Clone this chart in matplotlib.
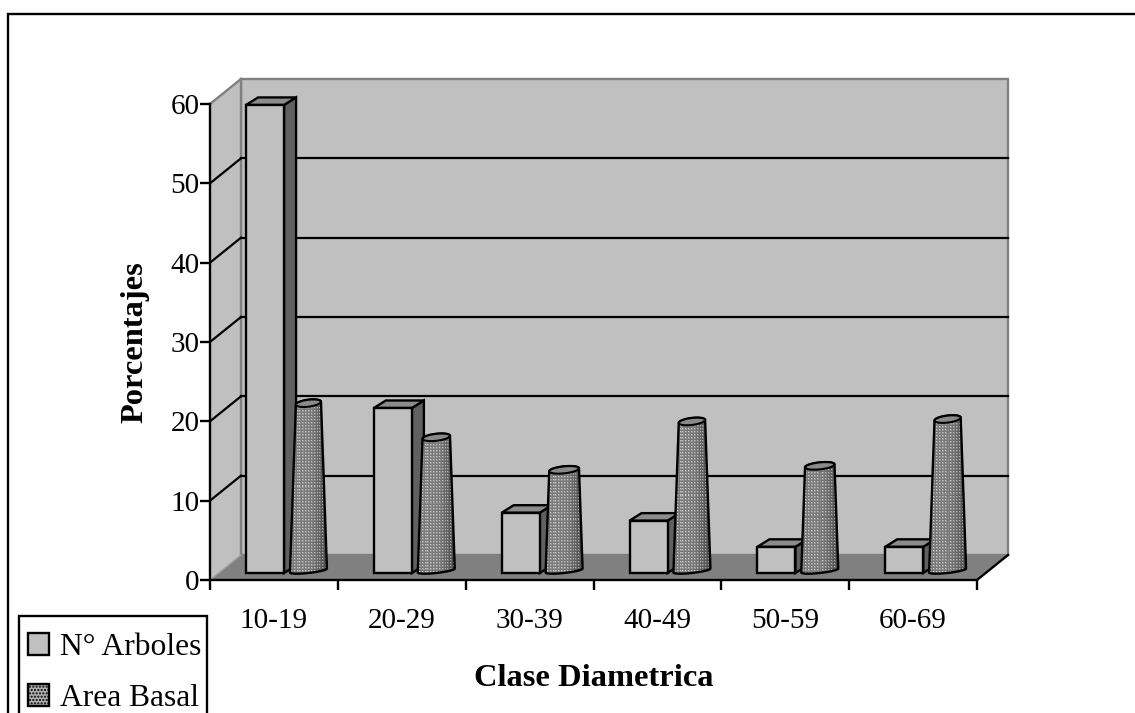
import numpy as np
import matplotlib
matplotlib.use('Agg')
import matplotlib.pyplot as plt
from matplotlib.patches import Polygon, Patch, Rectangle

# Chart values
clases = ['10-19', '20-29', '30-39', '40-49', '50-59', '60-69']
n_arboles = [59.0, 20.8, 7.6, 6.6, 3.3, 3.3]
area_basal = [21.4, 17.1, 13.0, 19.1, 13.5, 19.4]
y_ticks = [0, 10, 20, 30, 40, 50, 60]

W, H = 1135, 713
LEFT, RIGHT, BOTTOM, TOP = 210, 977, 580, 104
PX = len(clases) / (RIGHT - LEFT)   # one pixel in x units
PY = 60 / (BOTTOM - TOP)            # one pixel in y units
DEPTH_X, DEPTH_Y = 31 * PX, 25 * PY
LW = 1.7

plt.rcParams['font.family'] = ['Liberation Serif', 'DejaVu Serif']

fig = plt.figure(figsize=(W / 100, H / 100), dpi=100)
ax = fig.add_axes([LEFT / W, 1 - BOTTOM / H, (RIGHT - LEFT) / W, (BOTTOM - TOP) / H])
ax.set_xlim(0, len(clases))
ax.set_ylim(0, 60)
ax.patch.set_visible(False)

# Outer chart frame, only left and top fall inside the picture
fig.add_artist(Rectangle((8 / W, -0.1), 1.2, 1.1 - 14 / H, transform=fig.transFigure,
                         fc='none', ec='black', lw=LW))


def poly(points, fc, ec='black', lw=LW, z=2):
    p = Polygon(points, closed=True, fc=fc, ec=ec, lw=lw, zorder=z,
                joinstyle='miter', clip_on=False)
    ax.add_patch(p)
    return p


# Walls and floor
n = len(clases)
poly([(DEPTH_X, DEPTH_Y), (n + DEPTH_X, DEPTH_Y), (n + DEPTH_X, 60 + DEPTH_Y), (DEPTH_X, 60 + DEPTH_Y)],
     '#c0c0c0', ec='#808080', z=1)
poly([(0, 0), (DEPTH_X, DEPTH_Y), (DEPTH_X, 60 + DEPTH_Y), (0, 60)], '#c0c0c0', ec='none', z=1)
ax.plot([0, DEPTH_X], [60, 60 + DEPTH_Y], color='#808080', lw=LW, zorder=1.2, clip_on=False)
ax.plot([DEPTH_X, DEPTH_X], [DEPTH_Y, 60 + DEPTH_Y], color='#808080', lw=LW, zorder=1.2, clip_on=False)

# Gridlines on back wall and left wall
for v in y_ticks[1:-1]:
    ax.plot([DEPTH_X, n + DEPTH_X], [v + DEPTH_Y, v + DEPTH_Y], color='black', lw=1.6, zorder=1.5, clip_on=False)
    ax.plot([0, DEPTH_X], [v, v + DEPTH_Y], color='black', lw=1.6, zorder=1.5, clip_on=False)

poly([(0, 0), (n, 0), (n + DEPTH_X, DEPTH_Y), (DEPTH_X, DEPTH_Y)], '#808080', ec='none', z=1.6)
ax.plot([n, n + DEPTH_X], [0, DEPTH_Y], color='black', lw=LW, zorder=1.7, clip_on=False)
ax.plot([0, DEPTH_X], [0, DEPTH_Y], color='#a0a0a0', lw=1, zorder=1.7, clip_on=False)


def texture(w, h):
    # dotted grey dither, darker to the right like the shaded cylinders
    xs = np.linspace(0, 1, w)
    shade = 0.58 - 0.05 * np.abs(xs - 0.3) - 0.42 * np.clip(xs - 0.55, 0, 1) ** 1.2
    img = np.tile(shade, (h, 1))
    yy, xx = np.mgrid[0:h, 0:w]
    img = img - 0.10 * ((xx % 3 == 0) | (yy % 3 == 0)) + 0.22 * ((xx % 3 == 1) & (yy % 3 == 1))
    return np.clip(img, 0, 1)


def ellipse(cx, cy, half_w, half_h, shear, t0, t1):
    t = np.linspace(t0, t1, 30)
    return np.column_stack([cx + half_w * np.cos(t), cy + half_h * np.sin(t) + shear * np.cos(t)])


base_y = 7 * PY
bar_x = 0.282
bar_w = 38 * PX
bar_dx, bar_dy = 12 * PX, 7.5 * PY
cyl_x = 0.77
cyl_w = 18.5 * PX

for i, clase in enumerate(clases):
    # square column
    x0 = i + bar_x
    x1 = x0 + bar_w
    y0, y1 = base_y, base_y + n_arboles[i]
    poly([(x1, y0), (x1 + bar_dx, y0 + bar_dy), (x1 + bar_dx, y1 + bar_dy), (x1, y1)], '#606060', z=3 + i)
    poly([(x0, y1), (x1, y1), (x1 + bar_dx, y1 + bar_dy), (x0 + bar_dx, y1 + bar_dy)], '#8c8c8c', z=3 + i)
    poly([(x0, y0), (x1, y0), (x1, y1), (x0, y1)], '#c0c0c0', z=3 + i)

    # tapered cylinder
    cx = i + cyl_x
    top = base_y + area_basal[i]
    top_w = cyl_w - 0.035 * area_basal[i] / PY * PX
    low = ellipse(cx, base_y + 2.5 * PY, cyl_w, 2.5 * PY, 2 * PY, np.pi, 2 * np.pi)
    cap = ellipse(cx, top, top_w, 3.5 * PY, 1.5 * PY, 0, 2 * np.pi)
    body = np.vstack([low, ellipse(cx, top, top_w, 3.5 * PY, 1.5 * PY, 0, np.pi)])
    w_px = int(2 * cyl_w / PX) + 2
    h_px = int((top - base_y) / PY) + 8
    outline = poly(body, 'none', z=3.2 + i)
    im = ax.imshow(texture(w_px, h_px), cmap='gray', vmin=0, vmax=1, aspect='auto', interpolation='nearest',
                   extent=(cx - cyl_w, cx + cyl_w, base_y - 2 * PY, top + 6 * PY), zorder=3.1 + i)
    im.set_clip_path(outline)
    poly(cap, '#8a8a8a', lw=1.5, z=3.3 + i)

ax.set_xlim(0, n)
ax.set_ylim(0, 60)

# Axes, ticks and labels
for side in ['top', 'right']:
    ax.spines[side].set_visible(False)
for side in ['left', 'bottom']:
    ax.spines[side].set_linewidth(LW)
    ax.spines[side].set_zorder(20)
ax.set_yticks(y_ticks)
ax.tick_params(axis='y', direction='out', length=7.5, width=LW, labelsize=21, pad=0)
ax.set_xticks(range(n + 1))
ax.set_xticks(np.arange(n) + 0.5, minor=True)
ax.set_xticklabels([])
ax.set_xticklabels(clases, minor=True)
ax.tick_params(axis='x', which='major', direction='out', length=7.5, width=LW)
ax.tick_params(axis='x', which='minor', length=0, labelsize=21, pad=20)
ax.set_xlabel('Clase Diametrica', fontsize=23.4, fontweight='bold', labelpad=22)
ax.set_ylabel('Porcentajes', fontsize=23.4, fontweight='bold', labelpad=15)

# Legend, cut by the lower edge of the picture
fig.add_artist(Rectangle((19 / W, -0.1), 188 / W, 0.1 + 1 - 616 / H, transform=fig.transFigure,
                         fc='white', ec='black', lw=LW))
handles = [Patch(fc='#c0c0c0', ec='black', lw=LW),
           Patch(fc='#b0b0b0', ec='black', lw=LW, hatch='.....')]
leg = fig.legend(handles, ['N° Arboles', 'Area Basal'], loc='upper left',
                 bbox_to_anchor=(28 / W, 1 - 633 / H), fontsize=22.7, frameon=False,
                 borderaxespad=0, borderpad=0, labelspacing=0.7,
                 handlelength=0.67, handleheight=0.67, handletextpad=0.33)

fig.savefig('out.png', dpi=100)
